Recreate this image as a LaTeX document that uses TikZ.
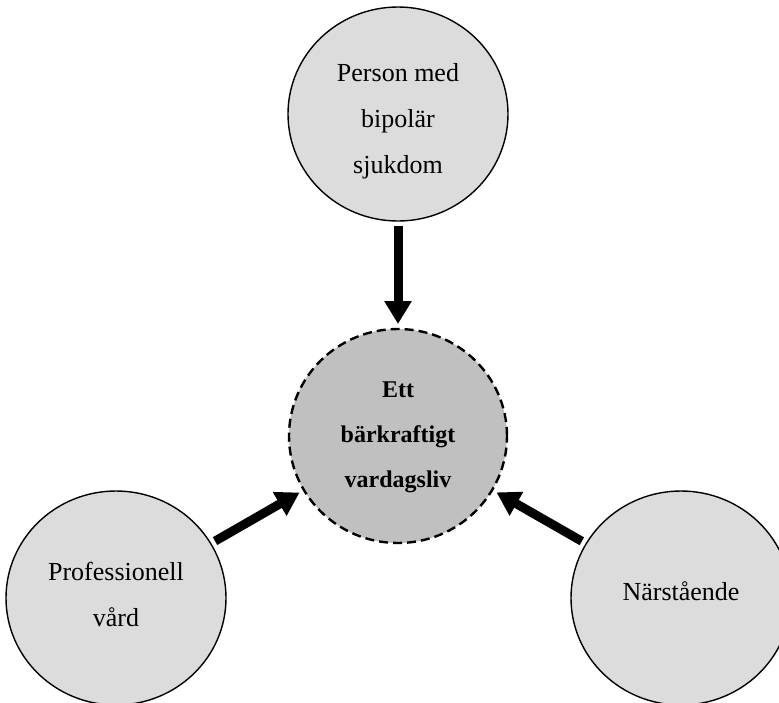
\documentclass[tikz,border=0pt]{standalone}
\usepackage{fontspec}
\setmainfont{Liberation Serif}
\usetikzlibrary{arrows.meta,shapes.geometric}
\definecolor{outerfill}{HTML}{DCDCDC}
\definecolor{innerfill}{HTML}{C0C0C0}
\tikzset{
  outercirc/.style={ellipse, draw=black, line width=1.4pt, fill=outerfill,
    minimum width=220pt, minimum height=214pt, inner sep=0pt, outer sep=0pt},
  innercirc/.style={ellipse, draw=black, line width=2.4pt, fill=innerfill,
    dash pattern=on 9pt off 5pt, minimum width=218pt, minimum height=214pt,
    inner sep=0pt, outer sep=0pt},
  lbl/.style={align=center, font=\fontsize{26}{46}\selectfont, inner sep=0pt},
  blbl/.style={align=center, font=\fontsize{24}{45}\selectfont\bfseries, inner sep=0pt},
  bigarrow/.style={line width=9pt, -{Triangle[length=23pt,width=26pt]},
    shorten <=5pt, shorten >=5pt}
}
\begin{document}
\begin{tikzpicture}[x=1pt,y=-1pt]
\useasboundingbox (0,0) rectangle (779,702);
\clip (0,0) rectangle (779,702);
\node[outercirc] (top) at (398,114) {};
\node[innercirc] (mid) at (398,436) {};
\node[outercirc] (left) at (116,598) {};
\node[outercirc] (right) at (681,598) {};
\node[lbl] (toptxt) at (398,121) {Person med\\bipolär\\sjukdom};
\node[blbl] (midtxt) at (398,437) {Ett\\bärkraftigt\\vardagsliv};
\node[lbl] (lefttxt) at (116,594) {Professionell\\vård};
\node[lbl] (righttxt) at (681,591) {Närstående};
\draw[bigarrow] (top) -- (mid);
\draw[bigarrow] (left) -- (mid);
\draw[bigarrow] (right) -- (mid);
\end{tikzpicture}
\end{document}
